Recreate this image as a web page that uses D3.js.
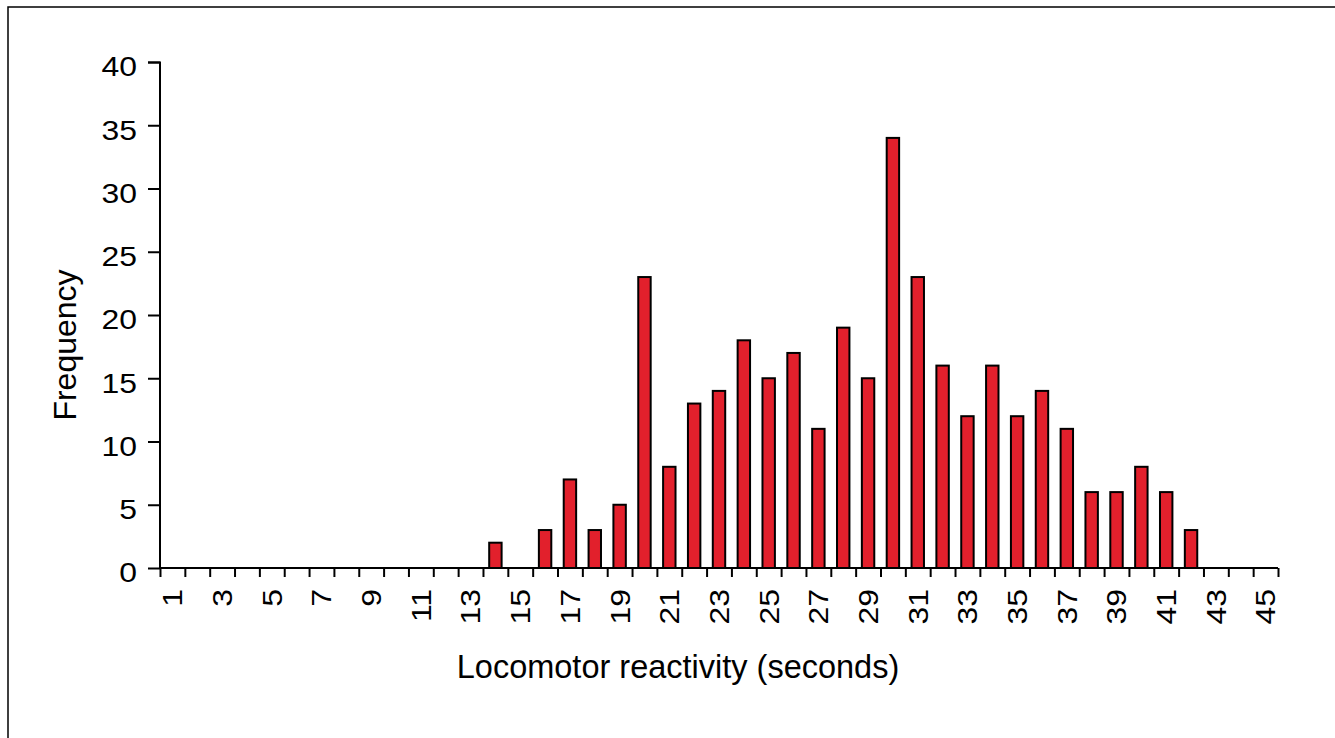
<!DOCTYPE html>
<html>
<head>
<meta charset="utf-8">
<script src="https://cdn.jsdelivr.net/npm/d3@7"></script>
<style>
  html, body { margin: 0; padding: 0; background: #fff; }
  svg { display: block; font-family: "Liberation Sans", Arial, Helvetica, sans-serif; }
</style>
</head>
<body>
<div id="chart"></div>
<script>
// reaction time bins (seconds)
const categories = [1, 2, 3, 4, 5, 6, 7, 8, 9, 10, 11, 12, 13, 14, 15, 16, 17, 18, 19, 20,
  21, 22, 23, 24, 25, 26, 27, 28, 29, 30, 31, 32, 33, 34, 35, 36, 37, 38, 39, 40,
  41, 42, 43, 44, 45];
const frequency = [0, 0, 0, 0, 0, 0, 0, 0, 0, 0, 0, 0, 0, 2, 0, 3, 7, 3, 5, 23,
  8, 13, 14, 18, 15, 17, 11, 19, 15, 34, 23, 16, 12, 16, 12, 14, 11, 6, 6, 8,
  6, 3, 0, 0, 0];
const yTicks = [0, 5, 10, 15, 20, 25, 30, 35, 40];
const xLabels = [1, 3, 5, 7, 9, 11, 13, 15, 17, 19, 21, 23, 25, 27, 29, 31, 33, 35, 37, 39, 41, 43, 45];

const fullWidth = 1335;
const fullHeight = 738;
const margin = { top: 62, right: 57, bottom: 170, left: 160 };
const width = fullWidth - margin.left - margin.right;
const height = fullHeight - margin.top - margin.bottom;
const font = "'Liberation Sans', Arial, Helvetica, sans-serif";

const data = categories.map((c, i) => ({ bin: c, count: frequency[i] }));

const svg = d3.select("#chart")
  .append("svg")
  .attr("width", fullWidth)
  .attr("height", fullHeight);

// figure frame (only top and left edges are inside the picture)
svg.append("rect")
  .attr("x", 8)
  .attr("y", 7)
  .attr("width", fullWidth + 20)
  .attr("height", fullHeight + 20)
  .attr("fill", "none")
  .attr("stroke", "#000")
  .attr("stroke-width", 1.5);

const chart = svg.append("g")
  .attr("transform", `translate(${margin.left},${margin.top})`);

const x = d3.scaleBand()
  .domain(categories)
  .range([0, width])
  .paddingInner(0)
  .paddingOuter(0);

const y = d3.scaleLinear()
  .domain([0, 40])
  .range([height, 0]);

// === Bars ===
const barW = x.bandwidth() * 0.5;
chart.selectAll("rect.bar")
  .data(data.filter((d) => d.count > 0))
  .enter()
  .append("rect")
  .attr("class", "bar")
  .attr("x", (d) => x(d.bin) + (x.bandwidth() - barW) / 2)
  .attr("y", (d) => y(d.count))
  .attr("width", barW)
  .attr("height", (d) => y(0) - y(d.count))
  .attr("fill", "#e2202c")
  .attr("stroke", "#000")
  .attr("stroke-width", 2);

// === Y axis ===
const yAxis = chart.append("g")
  .call(d3.axisLeft(y).tickValues(yTicks).tickSize(12).tickPadding(10).tickFormat(d3.format("d")))
  .attr("font-family", font);
yAxis.selectAll("path, line").attr("stroke", "#000").attr("stroke-width", 2);
yAxis.select(".domain").attr("d", `M-12,0.5H0V${height}`);
// digits in the original are a bit wider than Arial, so stretch them slightly
yAxis.selectAll("text")
  .attr("fill", "#000")
  .attr("x", 0)
  .attr("dy", "0.36em")
  .attr("transform", "translate(-23,4) scale(1.16,1)")
  .style("font-size", "27.5px");

// === X axis: tick marks on bin edges ===
const edges = d3.scaleLinear().domain([0, categories.length]).range([0, width]);
const xTickAxis = chart.append("g")
  .attr("transform", `translate(0,${height})`)
  .call(d3.axisBottom(edges)
    .tickValues(categories.map((c, i) => i).concat([categories.length]))
    .tickSize(9)
    .tickFormat(""));
xTickAxis.selectAll("path, line").attr("stroke", "#000").attr("stroke-width", 2);
xTickAxis.select(".domain").attr("d", `M0,0H${width}`);

// === X axis: rotated labels at bin centres ===
const xLabelAxis = chart.append("g")
  .attr("transform", `translate(0,${height})`)
  .call(d3.axisBottom(x).tickValues(xLabels).tickSize(0).tickPadding(0))
  .attr("font-family", font);
xLabelAxis.select(".domain").remove();
xLabelAxis.selectAll("text")
  .attr("fill", "#000")
  .attr("x", 0)
  .attr("y", 0)
  .attr("dy", "0.36em")
  .attr("text-anchor", "end")
  .attr("transform", "translate(0,21) rotate(-90) scale(1.16,1)")
  .style("font-size", "27.5px");

// === Axis titles ===
svg.append("text")
  .attr("x", 678)
  .attr("y", 678)
  .attr("text-anchor", "middle")
  .style("font-size", "32.5px")
  .attr("fill", "#000")
  .text("Locomotor reactivity (seconds)");

svg.append("text")
  .attr("transform", "translate(76,345) rotate(-90)")
  .attr("text-anchor", "middle")
  .style("font-size", "32px")
  .attr("fill", "#000")
  .text("Frequency");
</script>
</body>
</html>
